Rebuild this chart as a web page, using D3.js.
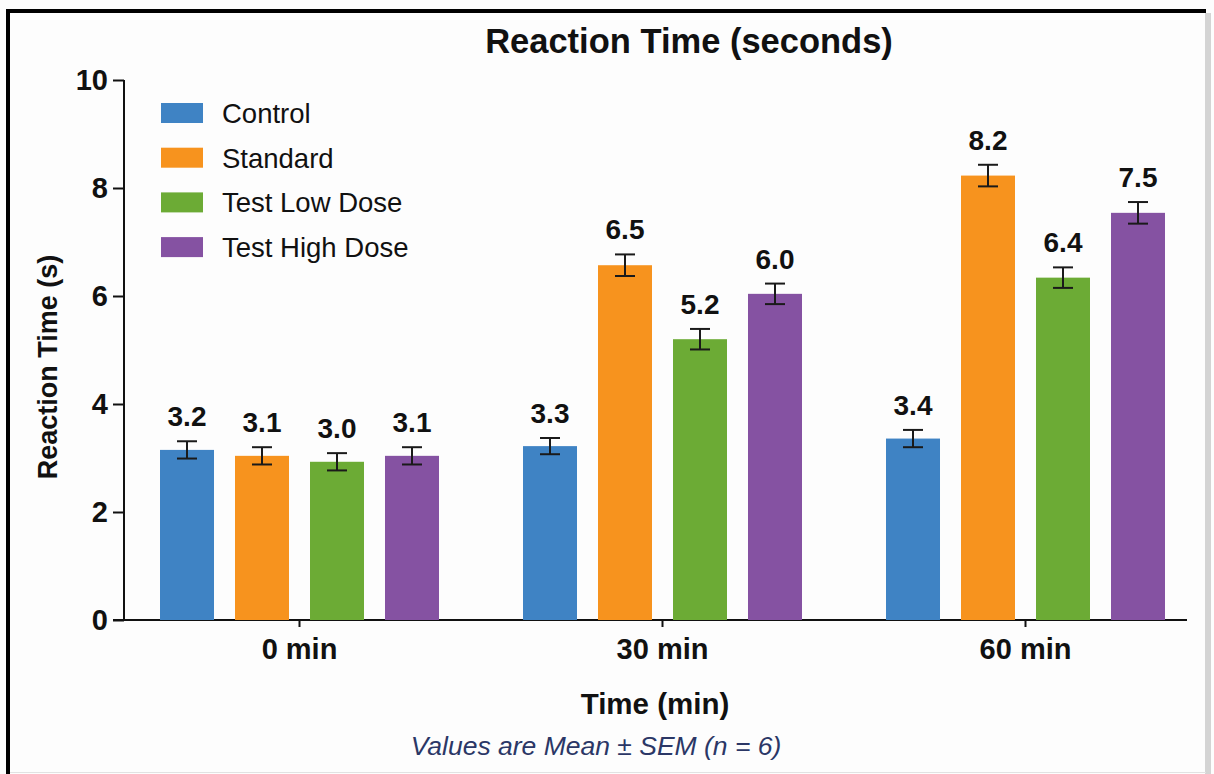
<!DOCTYPE html>
<html>
<head>
<meta charset="utf-8">
<script src="https://cdn.jsdelivr.net/npm/d3@7"></script>
<style>
  html, body { margin: 0; padding: 0; background: #ffffff; }
  svg text { font-family: "Liberation Sans", Arial, sans-serif; fill: #111; }
  .title { font-size: 34.5px; font-weight: bold; }
  .tickLabel { font-size: 29px; font-weight: bold; }
  .axisTitle { font-size: 29.5px; font-weight: bold; }
  .yTitle { font-size: 27px; font-weight: bold; }
  .legendText { font-size: 27.5px; }
  .valueLabel { font-size: 28px; font-weight: bold; }
  .note { font-size: 26.5px; font-style: italic; fill: #2b3766; }
</style>
</head>
<body>
<div id="chart"></div>
<script>
// time points on the x axis
const categories = ["0 min", "30 min", "60 min"];
// treatment groups
const seriesNames = ["Control", "Standard", "Test Low Dose", "Test High Dose"];
const seriesColors = ["#3f83c4", "#f7931e", "#6cab35", "#8552a2"];

// mean reaction time (s) per group, one value per time point
const control = [3.15, 3.22, 3.36];
const standard = [3.04, 6.57, 8.23];
const testLow = [2.93, 5.20, 6.34];
const testHigh = [3.04, 6.04, 7.54];

// SEM per group
const controlSem = [0.16, 0.15, 0.16];
const standardSem = [0.16, 0.20, 0.20];
const testLowSem = [0.16, 0.19, 0.19];
const testHighSem = [0.16, 0.19, 0.20];

// printed labels above the bars
const controlLabels = [3.2, 3.3, 3.4];
const standardLabels = [3.1, 6.5, 8.2];
const testLowLabels = [3.0, 5.2, 6.4];
const testHighLabels = [3.1, 6.0, 7.5];

const yTicks = [0, 2, 4, 6, 8, 10];

/** Class implementing the grouped bar chart with error bars. */
class ReactionTimeChart {

    /**
     * Creates the svg and the scales
     */
    constructor(){
        this.width = 1214;
        this.height = 774;

        this.svg = d3.select("#chart").append("svg")
            .attr("width", this.width)
            .attr("height", this.height);

        this.svg.append("rect")
            .attr("x", 0).attr("y", 0)
            .attr("width", this.width).attr("height", this.height)
            .attr("fill", "#fdfdfd");

        this.yScale = d3.scaleLinear()
            .domain([0, 10])
            .range([620, 80]);

        this.x0 = d3.scaleBand()
            .domain(categories)
            .range([118, 1207])
            .paddingInner(0.1736)
            .paddingOuter(0.0868);

        this.x1 = d3.scaleBand()
            .domain(seriesNames)
            .range([0, this.x0.bandwidth()])
            .paddingInner(0.28)
            .paddingOuter(0.14);
    }

    //frame round the picture: heavy black top/left, light grey right/bottom
    drawFrame(){
        this.svg.append("line")
            .attr("x1", 6).attr("x2", 1206)
            .attr("y1", 11).attr("y2", 11)
            .attr("stroke", "#000").attr("stroke-width", 4);
        this.svg.append("line")
            .attr("x1", 8).attr("x2", 8)
            .attr("y1", 9).attr("y2", 774)
            .attr("stroke", "#000").attr("stroke-width", 4);
        this.svg.append("rect")
            .attr("x", 1205).attr("y", 13)
            .attr("width", 6).attr("height", 761)
            .attr("fill", "#d4d4d4");
        this.svg.append("line")
            .attr("x1", 10).attr("x2", 1206)
            .attr("y1", 772.5).attr("y2", 772.5)
            .attr("stroke", "#e2e2e2").attr("stroke-width", 1);
    }

    drawAxes(){
        //y axis: ticks to the left, labels bold
        let yAxis = d3.axisLeft(this.yScale)
            .tickValues(yTicks)
            .tickSize(11)
            .tickPadding(5)
            .tickFormat(d3.format("d"));
        let yG = this.svg.append("g")
            .attr("transform", "translate(124,0)")
            .call(yAxis);
        yG.select(".domain").remove();
        yG.selectAll(".tick line").attr("stroke", "#111").attr("stroke-width", 2);
        yG.selectAll(".tick text").attr("class", "tickLabel");
        yG.attr("font-size", null).attr("font-family", null);

        this.svg.append("line")
            .attr("x1", 124).attr("x2", 124)
            .attr("y1", this.yScale(10)).attr("y2", this.yScale(0))
            .attr("stroke", "#111").attr("stroke-width", 2);

        //x axis
        this.svg.append("line")
            .attr("x1", 113).attr("x2", 1187)
            .attr("y1", this.yScale(0)).attr("y2", this.yScale(0))
            .attr("stroke", "#111").attr("stroke-width", 2);

        let xAxis = d3.axisBottom(this.x0).tickSize(7).tickPadding(11);
        let xG = this.svg.append("g")
            .attr("transform", "translate(0," + this.yScale(0) + ")")
            .call(xAxis);
        xG.select(".domain").remove();
        xG.selectAll(".tick line").attr("stroke", "#111").attr("stroke-width", 2);
        xG.selectAll(".tick text").attr("class", "tickLabel").attr("dy", "0.71em");
        xG.attr("font-size", null).attr("font-family", null);

        this.svg.append("text")
            .attr("class", "axisTitle")
            .attr("x", 655).attr("y", 714)
            .attr("text-anchor", "middle")
            .text("Time (min)");

        this.svg.append("text")
            .attr("class", "yTitle")
            .attr("transform", "translate(57,367) rotate(-90)")
            .attr("text-anchor", "middle")
            .text("Reaction Time (s)");
    }

    /**
     * Draws bars, error bars and value labels
     */
    update(rows){
        let self = this;
        let y = this.yScale;

        let groups = this.svg.selectAll(".timeGroup").data(categories);
        groups = groups.enter().append("g")
            .classed("timeGroup", true)
            .attr("transform", d => "translate(" + self.x0(d) + ",0)");

        let cells = (d, i) => rows.map(r => ({name: r.name, color: r.color, mean: r.mean[i], sem: r.sem[i], label: r.label[i]}));

        groups.selectAll("rect").data(cells)
            .enter().append("rect")
            .attr("x", d => self.x1(d.name))
            .attr("y", d => y(d.mean))
            .attr("width", this.x1.bandwidth())
            .attr("height", d => y(0) - y(d.mean))
            .attr("fill", d => d.color);

        let cap = 10;
        let errs = groups.selectAll(".errorBar").data(cells)
            .enter().append("g")
            .classed("errorBar", true)
            .attr("transform", d => "translate(" + (self.x1(d.name) + self.x1.bandwidth() / 2) + ",0)");
        errs.append("line")
            .attr("x1", 0).attr("x2", 0)
            .attr("y1", d => y(d.mean + d.sem)).attr("y2", d => y(d.mean - d.sem));
        errs.append("line")
            .attr("x1", -cap).attr("x2", cap)
            .attr("y1", d => y(d.mean + d.sem)).attr("y2", d => y(d.mean + d.sem));
        errs.append("line")
            .attr("x1", -cap).attr("x2", cap)
            .attr("y1", d => y(d.mean - d.sem)).attr("y2", d => y(d.mean - d.sem));
        errs.selectAll("line").attr("stroke", "#1a1a1a").attr("stroke-width", 2);

        errs.append("text")
            .attr("class", "valueLabel")
            .attr("x", 0)
            .attr("y", d => y(d.mean + d.sem) - 15)
            .attr("text-anchor", "middle")
            .text(d => d3.format(".1f")(d.label));
    }

    drawLegend(rows){
        let legend = this.svg.append("g").attr("transform", "translate(161,113)");
        let items = legend.selectAll(".legendItem").data(rows).enter().append("g")
            .classed("legendItem", true)
            .attr("transform", (d, i) => "translate(0," + (i * 44.7) + ")");
        items.append("rect")
            .attr("x", 0).attr("y", -10)
            .attr("width", 42).attr("height", 20)
            .attr("fill", d => d.color);
        items.append("text")
            .attr("class", "legendText")
            .attr("x", 61).attr("y", 0)
            .attr("dy", "0.36em")
            .text(d => d.name);
    }

    drawTitles(){
        this.svg.append("text")
            .attr("class", "title")
            .attr("x", 689).attr("y", 53)
            .attr("text-anchor", "middle")
            .text("Reaction Time (seconds)");

        this.svg.append("text")
            .attr("class", "note")
            .attr("x", 596).attr("y", 755)
            .attr("text-anchor", "middle")
            .text("Values are Mean \u00b1 SEM (n = 6)");
    }
}

let rows = [
    {name: seriesNames[0], color: seriesColors[0], mean: control, sem: controlSem, label: controlLabels},
    {name: seriesNames[1], color: seriesColors[1], mean: standard, sem: standardSem, label: standardLabels},
    {name: seriesNames[2], color: seriesColors[2], mean: testLow, sem: testLowSem, label: testLowLabels},
    {name: seriesNames[3], color: seriesColors[3], mean: testHigh, sem: testHighSem, label: testHighLabels}
];

let chart = new ReactionTimeChart();
chart.drawFrame();
chart.drawAxes();
chart.update(rows);
chart.drawLegend(rows);
chart.drawTitles();
</script>
</body>
</html>
